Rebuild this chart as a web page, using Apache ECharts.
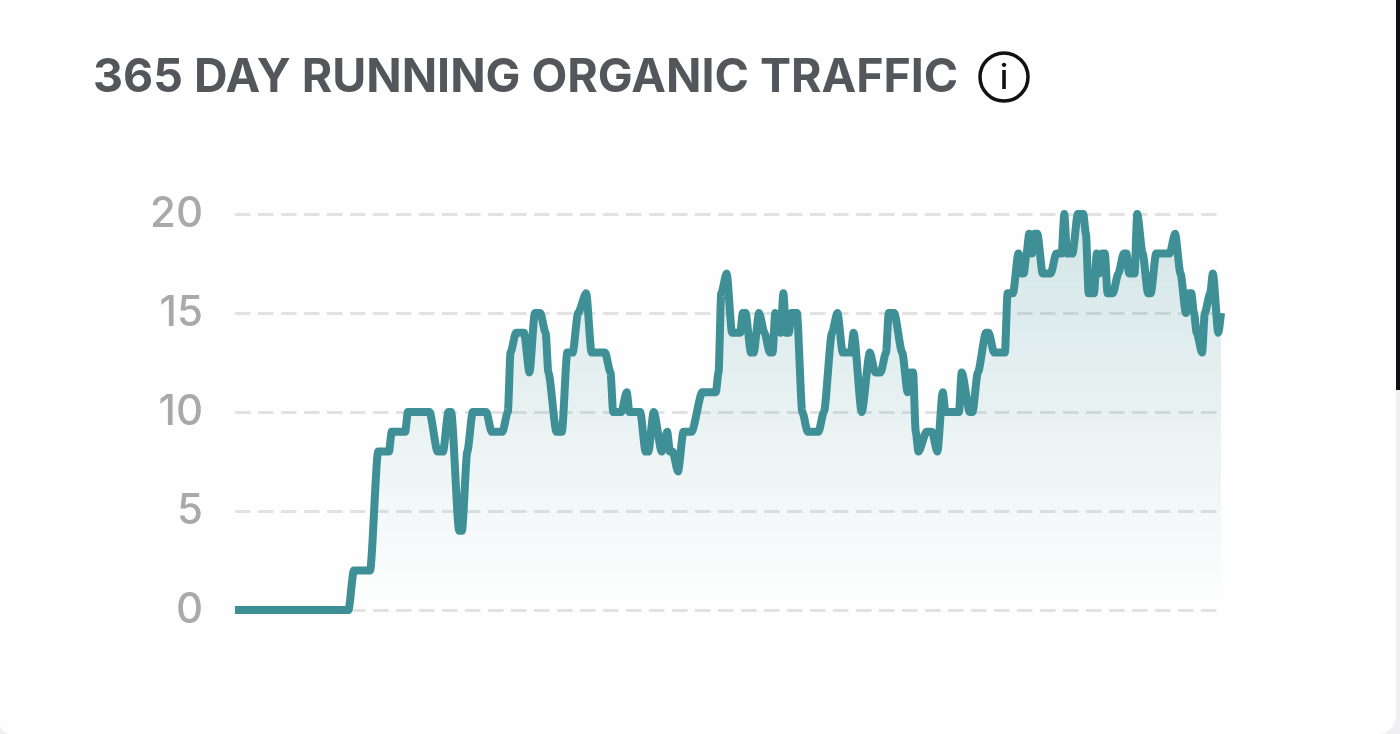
<!DOCTYPE html>
<html>
<head>
<meta charset="utf-8">
<title>365 Day Running Organic Traffic</title>
<script src="https://cdn.jsdelivr.net/npm/echarts@6/dist/echarts.min.js"></script>
<style>
  html, body { margin: 0; padding: 0; width: 1400px; height: 734px; overflow: hidden; background: #f0eff4; }
  #card { position: absolute; left: 0; top: 0; width: 1396px; height: 734px; background: #fefefe; border-bottom-right-radius: 18px; border-bottom-left-radius: 10px; }
  #edge { position: absolute; left: 1396px; top: 0; width: 4px; height: 390px; background: #111114; }
  #chart { position: absolute; left: 0; top: 0; width: 1400px; height: 734px; }
</style>
</head>
<body>
<div id="card"></div>
<div id="edge"></div>
<div id="chart"></div>
<script>
// Day of the trailing year at each turning point of the curve
const days = [0,42,44,50,53,57,58,63,64,72,75,77,79,80,83,84,86,88,93,95,99,101,102,104,107,109,111,113,115,116,119,121,123,125,127,130,132,137,139,140,143,145,146,150,152,153,155,158,160,161,162,164,166,169,173,178,179,180,182,184,187,188,189,191,192,194,196,198,199,200,202,203,204,205,206,208,210,212,216,218,221,223,225,228,229,232,235,237,239,241,242,244,247,249,250,251,252,253,256,258,260,262,263,268,269,272,273,275,278,279,281,285,286,288,290,291,292,293,294,295,296,297,299,302,304,306,307,308,310,312,314,315,316,318,319,320,321,322,323,325,327,329,330,331,333,334,336,338,339,341,346,348,350,352,353,354,355,356,358,359,361,362,364,365];
// Running organic traffic on those days
const traffic = [0,0,2,2,8,8,9,9,10,10,8,8,10,10,4,4,8,10,10,9,9,10,13,14,14,12,15,15,14,12,9,9,13,13,15,16,13,13,12,10,10,11,10,10,8,8,10,8,9,8,8,7,9,9,11,11,12,16,17,14,14,15,15,13,13,15,14,13,13,15,14,16,14,14,15,15,10,9,9,10,14,15,13,13,14,10,13,12,12,13,15,15,13,11,12,12,9,8,9,9,8,11,10,10,12,10,10,12,14,14,13,13,16,16,18,17,17,18,19,18,19,19,17,17,18,18,20,18,18,20,20,19,16,16,18,17,18,18,16,16,17,18,18,17,17,20,18,16,16,18,18,19,17,15,16,16,15,14,13,15,16,17,14,15];
const yTicks = [0, 5, 10, 15, 20];
const titleText = '365 DAY RUNNING ORGANIC TRAFFIC';

const chart = echarts.init(document.getElementById('chart'), null, { renderer: 'canvas' });
chart.setOption({
  animation: false,
  backgroundColor: 'transparent',
  title: {
    text: titleText,
    left: 93,
    top: 55,
    padding: 0,
    textStyle: { fontFamily: 'Inter', fontWeight: 700, fontSize: 46.5, color: '#55555c' }
  },
  grid: { left: 235, right: 179, top: 214, bottom: 124 },
  xAxis: { type: 'value', min: 0, max: 365, show: false },
  yAxis: {
    type: 'value',
    min: yTicks[0],
    max: yTicks[yTicks.length - 1],
    interval: yTicks[1] - yTicks[0],
    axisLine: { show: false },
    axisTick: { show: false },
    axisLabel: { margin: 32, fontFamily: 'Inter', fontWeight: 500, fontSize: 42, color: '#a9a9a9', padding: [4, 0, 0, 0] },
    splitLine: { lineStyle: { color: '#e2e2e2', width: 3, type: [15.5, 7.5] } }
  },
  series: [{
    type: 'line',
    data: days.map((d, i) => [d, traffic[i]]),
    showSymbol: false,
    smooth: 0.25,
    smoothMonotone: 'x',
    clip: false,
    lineStyle: { color: '#3f9096', width: 8, join: 'round', cap: 'butt' },
    areaStyle: {
      color: new echarts.graphic.LinearGradient(0, 0, 0, 1, [
        { offset: 0, color: 'rgba(63,144,150,0.32)' },
        { offset: 1, color: 'rgba(63,144,150,0)' }
      ])
    }
  }],
  graphic: [
    { type: 'circle', shape: { cx: 1004, cy: 77, r: 24 }, style: { fill: 'none', stroke: '#111', lineWidth: 3.5 } },
    { type: 'text', x: 1004, y: 79, style: { text: 'i', fill: '#111', font: '500 34px Inter', align: 'center', verticalAlign: 'middle' } }
  ]
});
</script>
</body>
</html>
